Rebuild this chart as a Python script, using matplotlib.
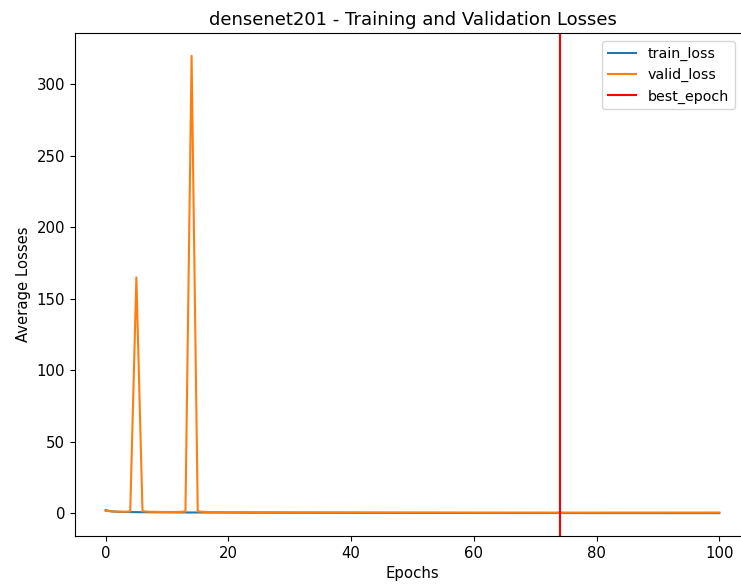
import matplotlib
matplotlib.use("Agg")
import matplotlib.pyplot as plt

epochs = list(range(101))
train_loss = [2.10, 1.25, 0.98, 0.86, 0.79, 0.74, 0.70, 0.66, 0.63, 0.60,
              0.58, 0.56, 0.54, 0.52, 0.50, 0.49, 0.47, 0.46, 0.45, 0.44,
              0.42, 0.41, 0.40, 0.39, 0.38, 0.37, 0.36, 0.35, 0.34, 0.33,
              0.32, 0.31, 0.30, 0.30, 0.29, 0.28, 0.27, 0.27, 0.26, 0.25,
              0.25, 0.24, 0.23, 0.23, 0.22, 0.22, 0.21, 0.20, 0.20, 0.19,
              0.19, 0.18, 0.18, 0.17, 0.17, 0.16, 0.16, 0.15, 0.15, 0.15,
              0.14, 0.14, 0.13, 0.13, 0.13, 0.12, 0.12, 0.12, 0.11, 0.11,
              0.11, 0.10, 0.10, 0.10, 0.09, 0.09, 0.09, 0.09, 0.08, 0.08,
              0.08, 0.08, 0.07, 0.07, 0.07, 0.07, 0.07, 0.06, 0.06, 0.06,
              0.06, 0.06, 0.05, 0.05, 0.05, 0.05, 0.05, 0.05, 0.04, 0.04,
              0.04]
valid_loss = [1.60, 1.30, 1.10, 1.02, 1.20, 165.0, 1.40, 1.00, 0.95, 0.90,
              0.88, 0.85, 0.92, 1.10, 320.0, 1.30, 0.90, 0.82, 0.80, 0.78,
              0.76, 0.75, 0.73, 0.72, 0.70, 0.69, 0.68, 0.66, 0.65, 0.64,
              0.63, 0.62, 0.61, 0.60, 0.60, 0.59, 0.58, 0.57, 0.57, 0.56,
              0.55, 0.55, 0.54, 0.54, 0.53, 0.53, 0.52, 0.52, 0.51, 0.51,
              0.50, 0.50, 0.49, 0.49, 0.49, 0.48, 0.48, 0.48, 0.47, 0.47,
              0.47, 0.46, 0.46, 0.46, 0.45, 0.45, 0.45, 0.45, 0.44, 0.44,
              0.44, 0.44, 0.43, 0.43, 0.42, 0.43, 0.43, 0.43, 0.43, 0.43,
              0.43, 0.43, 0.44, 0.44, 0.44, 0.44, 0.44, 0.44, 0.45, 0.45,
              0.45, 0.45, 0.45, 0.46, 0.46, 0.46, 0.46, 0.46, 0.47, 0.47,
              0.47]
best_epoch = 74

plt.rcParams["font.size"] = 10.7
fig = plt.figure(figsize=(7.41, 5.86), dpi=100)
W, H = 741, 586
left, right, top, bottom = 75, 750, 33, 536
ax = fig.add_axes([left / W, 1 - bottom / H, (right - left) / W, (bottom - top) / H])
ax.plot(epochs, train_loss, label="train_loss")
ax.plot(epochs, valid_loss, label="valid_loss")
ax.axvline(best_epoch, color="red", label="best_epoch")
ax.set_title("densenet201 - Training and Validation Losses", fontsize=13)
ax.set_xlabel("Epochs")
ax.set_ylabel("Average Losses")
ax.legend(loc="upper right", fontsize=10.3,
          bbox_to_anchor=((742 - left) / (right - left), 0.998))
fig.savefig("out.png", dpi=100)
